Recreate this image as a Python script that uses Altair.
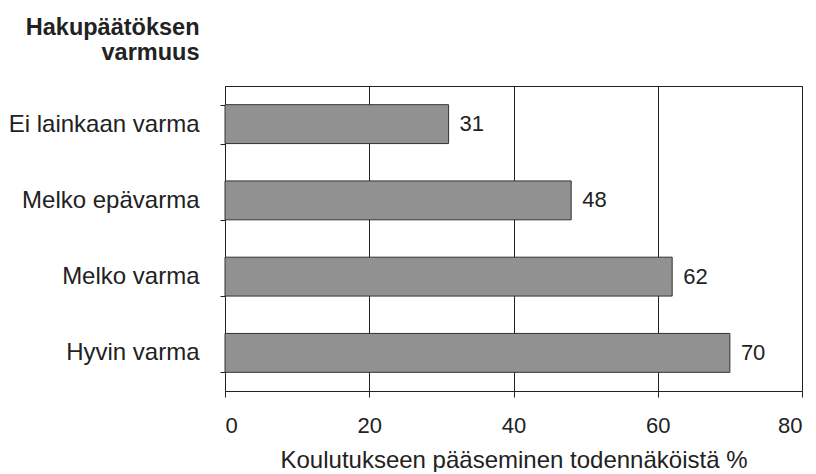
import altair as alt
import pandas as pd

categories = ["Ei lainkaan varma", "Melko epävarma", "Melko varma", "Hyvin varma"]
values = [31, 48, 62, 70]
x_ticks = [0, 20, 40, 60, 80]

df = pd.DataFrame({"cat": categories, "val": values})
FONT = "Liberation Sans"

y_enc = alt.Y(
    "cat:N",
    sort=categories,
    scale=alt.Scale(paddingInner=0.49, paddingOuter=0.245),
    axis=alt.Axis(
        title=["Hakupäätöksen", "varmuus"],
        titleAngle=0,
        titleAlign="right",
        titleBaseline="top",
        titleX=-26,
        titleY=-71,
        titleFontSize=23.5,
        titleFontWeight="bold",
        titleFont=FONT,
        titleColor="#222",
        titleLineHeight=25,
        labelFontSize=24,
        labelFont=FONT,
        labelColor="#222",
        labelPadding=21,
        labelLimit=400,
        tickBand="extent",
        tickSize=5,
        tickColor="#222",
        domainColor="#222",
        grid=False,
    ),
)

x_enc = alt.X(
    "val:Q",
    scale=alt.Scale(domain=[0, 80], nice=False),
    axis=alt.Axis(
        values=x_ticks,
        title="Koulutukseen pääseminen todennäköistä %",
        titleFontSize=24,
        titleFont=FONT,
        titleFontWeight="normal",
        titleColor="#222",
        titlePadding=12,
        labelFontSize=22,
        labelFont=FONT,
        labelColor="#222",
        labelPadding=18,
        tickSize=6,
        tickColor="#222",
        domainColor="#222",
        grid=True,
        gridColor="#222",
        gridOpacity=1,
        gridWidth=1,
    ),
)

bars = alt.Chart(df).mark_bar(color="#919191", stroke="#333", strokeWidth=1).encode(
    x=x_enc, y=y_enc
)

labels = alt.Chart(df).mark_text(
    align="left", baseline="middle", dx=11, fontSize=22, font=FONT, color="#222"
).encode(x="val:Q", y=alt.Y("cat:N", sort=categories), text="val:Q")

chart = (
    alt.layer(bars, labels)
    .properties(width=577, height=305, padding={"left": 0, "top": 7, "right": 5, "bottom": 0})
    .configure_view(stroke="#222", strokeWidth=1)
)

chart.save("out.html", embed_options={"renderer": "svg", "actions": False})
